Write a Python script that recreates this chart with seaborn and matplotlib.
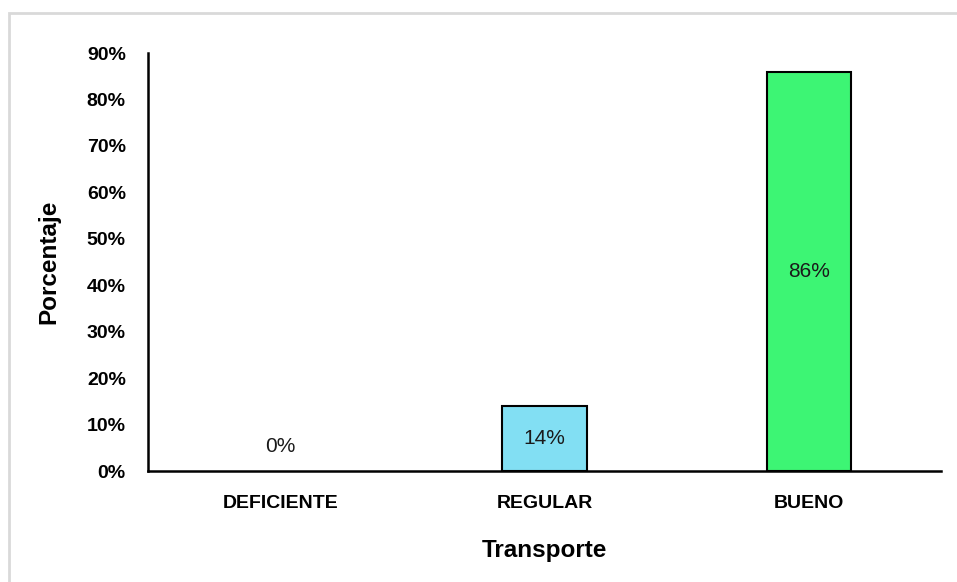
import matplotlib
matplotlib.use("Agg")
import matplotlib.pyplot as plt
import seaborn as sns
import pandas as pd
from matplotlib.patches import Rectangle

categories = ["DEFICIENTE", "REGULAR", "BUENO"]
values = [0, 14, 86]
bar_colors = ["#FFFFFF", "#82DFF3", "#3DF574"]
y_ticks = [0, 10, 20, 30, 40, 50, 60, 70, 80, 90]

sns.set_theme(style="white")
plt.rcParams["font.family"] = ["Liberation Sans", "DejaVu Sans"]
plt.rcParams["text.color"] = "black"
plt.rcParams["axes.labelcolor"] = "black"
plt.rcParams["xtick.color"] = "black"
plt.rcParams["ytick.color"] = "black"

df = pd.DataFrame({"cat": categories, "val": values})

fig = plt.figure(figsize=(9.57, 5.82), dpi=100)
ax = fig.add_axes([0.1547, 0.1907, 0.8286, 0.7182])

sns.barplot(data=df, x="cat", y="val", hue="cat", palette=bar_colors,
            legend=False, width=0.32, edgecolor="black", linewidth=1.5,
            saturation=1, ax=ax)

# bars with zero height carry no outline
for patch, v in zip(ax.patches, values):
    if v == 0:
        patch.set_linewidth(0)

ax.set_xlim(-0.5, 2.5)
ax.set_ylim(0, 90)
ax.set_yticks(y_ticks)
ax.set_yticklabels([f"{t}%" for t in y_ticks], fontsize=14, fontweight="bold")
ax.tick_params(axis="x", labelsize=14, pad=17)
for lbl in ax.get_xticklabels():
    lbl.set_fontweight("bold")
ax.tick_params(axis="both", length=0)
ax.tick_params(axis="y", pad=16)

ax.set_xlabel("Transporte", fontsize=17.5, fontweight="bold", labelpad=20)
ax.set_ylabel("Porcentaje", fontsize=17.5, fontweight="bold", labelpad=19)

for s in ["top", "right"]:
    ax.spines[s].set_visible(False)
for s in ["left", "bottom"]:
    ax.spines[s].set_color("black")
    ax.spines[s].set_linewidth(1.8)

for i, v in enumerate(values):
    if v == 0:
        ax.annotate(f"{v}%", (i, 0), xytext=(0, 18), textcoords="offset points",
                    ha="center", va="center", fontsize=15, color="#1a1a1a")
    else:
        ax.text(i, v / 2, f"{v}%", ha="center", va="center",
                fontsize=15, color="#1a1a1a")

# light chart-area frame
fig.patches.append(Rectangle((9 / 957, -0.01), 1.0, 1 - 13 / 582 + 0.01,
                             transform=fig.transFigure, fill=False,
                             edgecolor="#D9D9D9", linewidth=2))

fig.savefig("out.png", dpi=100)
